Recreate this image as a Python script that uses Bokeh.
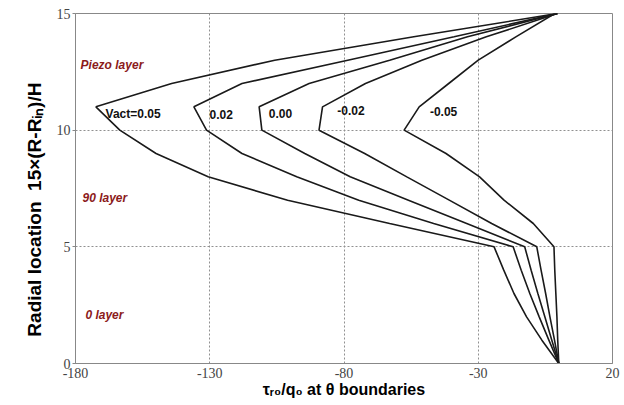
from bokeh.plotting import figure
from bokeh.models import Range1d, FixedTicker, Label
from bokeh.embed import file_html
from bokeh.resources import INLINE

# ---- data ----
radial = [0, 1, 2, 3, 4, 5, 6, 7, 8, 9, 10, 11, 12, 13, 14, 15]
v_p005 = [0, -6.3, -12.0, -16.7, -20.5, -24.1, -63.0, -101.0, -130.6, -150.0, -163.5, -172.4, -144.2, -105.8, -54.0, -0.5]
v_p002 = [0, -3.7, -7.3, -10.8, -14.0, -17.0, -46.6, -74.5, -97.6, -118.0, -131.2, -135.9, -118.0, -78.6, -39.0, -0.5]
v_000 = [0, -2.6, -5.2, -7.8, -10.3, -12.7, -34.3, -56.0, -77.7, -94.6, -110.6, -111.6, -93.0, -63.0, -34.0, -0.5]
v_m002 = [0, -1.6, -3.3, -4.9, -6.6, -8.2, -25.0, -40.8, -56.6, -72.3, -89.3, -88.0, -72.0, -51.0, -27.0, -0.5]
v_m005 = [0, -0.4, -0.7, -1.1, -1.5, -1.8, -9.5, -20.4, -29.5, -42.0, -57.6, -52.0, -41.0, -30.0, -16.0, -1.5]
series = [v_p005, v_p002, v_000, v_m002, v_m005]
series_names = ["Vact=0.05", "0.02", "0.00", "-0.02", "-0.05"]
name_pos_x = [-168.8, -130.1, -108.0, -82.5, -48.0]
name_pos_y = [10.69, 10.69, 10.72, 10.83, 10.82]
x_ticks = [-180, -130, -80, -30, 20]
y_ticks = [0, 5, 10, 15]
layer_names = ["Piezo layer", "90 layer", "0 layer"]
layer_x = [-178.1, -177.4, -176.3]
layer_y = [12.81, 7.11, 2.07]
x_title = "\u03c4\u1d63\u2080/q\u2080 at \u03b8 boundaries"
y_title = "Radial location \u00a015\u00d7(R-R\u1d62\u2099)/H" + "\u00a0" * 8

p = figure(width=624, height=405, output_backend="svg", toolbar_location=None,
           x_range=Range1d(-180, 20), y_range=Range1d(0, 15),
           min_border_left=75, min_border_right=12, min_border_top=13, min_border_bottom=42)
p.background_fill_color = "white"
p.border_fill_color = "white"
p.outline_line_color = "#888888"
p.outline_line_width = 1

for s in series:
    p.line(s, radial, line_color="#1a1a1a", line_width=1.6)

# axes
p.xaxis.ticker = FixedTicker(ticks=x_ticks)
p.yaxis.ticker = FixedTicker(ticks=y_ticks)
p.xaxis.major_label_overrides = {t: str(t) for t in x_ticks}
p.yaxis.major_label_overrides = {t: str(t) for t in y_ticks}
for ax in (p.xaxis, p.yaxis):
    ax.axis_line_color = "#888888"
    ax.major_tick_line_color = "#888888"
    ax.minor_tick_line_color = None
    ax.major_label_text_font = "Liberation Serif"
    ax.major_label_text_font_size = "14px"
    ax.major_label_text_color = "#444444"
    ax.axis_label_text_font = "Liberation Sans"
    ax.axis_label_text_font_style = "bold"
    ax.axis_label_text_color = "#000000"
p.xaxis.major_tick_in = 0
p.xaxis.major_tick_out = 0
p.xaxis.major_label_standoff = 4
p.yaxis.major_tick_in = 0
p.yaxis.major_tick_out = 3
p.yaxis.major_label_standoff = 2

p.xaxis.axis_label = x_title
p.xaxis.axis_label_text_font_size = "16px"
p.xaxis.axis_label_standoff = 0
p.yaxis.axis_label = y_title
p.yaxis.axis_label_text_font_size = "19px"
p.yaxis.axis_label_standoff = 9

p.grid.grid_line_color = "#909090"
p.grid.grid_line_dash = "2 2"
p.grid.grid_line_width = 1

# curve labels
for nm, x, y in zip(series_names, name_pos_x, name_pos_y):
    p.add_layout(Label(x=x, y=y, text=nm, text_font="Liberation Sans", text_font_style="bold",
                       text_font_size="12px", text_color="#111111", text_baseline="alphabetic"))

# layer labels
for nm, x, y in zip(layer_names, layer_x, layer_y):
    p.add_layout(Label(x=x, y=y, text=nm, text_font="Liberation Sans", text_font_style="bold italic",
                       text_font_size="12px", text_color="#8B1A1A", text_baseline="alphabetic"))

open("out.html", "w").write(file_html(p, INLINE))
